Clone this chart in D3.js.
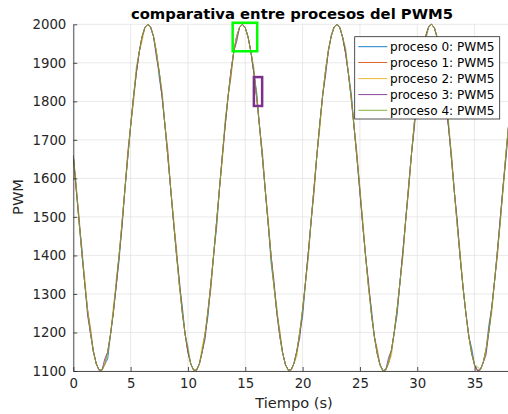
<!DOCTYPE html>
<html><head><meta charset="utf-8">
<script src="https://cdn.jsdelivr.net/npm/d3@7"></script>
<style>body{margin:0;background:#fff}svg{display:block}text{font-family:"DejaVu Sans",sans-serif}</style>
</head><body><svg id="c" width="508" height="414"></svg>
<script>
const tStep = 0.25;
const xTicks = [0,5,10,15,20,25,30,35];
const yTicks = [1100,1200,1300,1400,1500,1600,1700,1800,1900,2000];
const seriesNames = ["proceso 0: PWM5","proceso 1: PWM5","proceso 2: PWM5","proceso 3: PWM5","proceso 4: PWM5"];
const colors = ["#0072BD","#D95319","#EDB120","#7E2F8E","#77AC30"];
const s0 = [1659,1574,1488,1420,1327,1257,1198,1151,1119,1102,1102,1118,1131,1196,1254,1324,1388,1485,1571,1655,1736,1811,1875,1928,1968,1992,2000,1992,1968,1928,1861,1811,1736,1655,1571,1485,1402,1324,1270,1196,1149,1118,1102,1102,1119,1151,1198,1243,1327,1405,1472,1574,1659,1739,1813,1878,1930,1969,1992,2000,1991,1966,1927,1873,1822,1733,1652,1567,1482,1381,1321,1252,1193,1148,1117,1102,1103,1120,1152,1200,1241,1330,1408,1492,1577,1662,1742,1816,1880,1932,1970,1993,2000,1991,1965,1925,1871,1819,1730,1649,1564,1478,1396,1318,1263,1191,1146,1116,1101,1103,1121,1154,1202,1248,1333,1411,1495,1581,1665,1746,1819,1882,1934,1971,1994,2000,1990,1964,1923,1868,1788,1727,1645,1560,1475,1392,1315,1247,1189,1159,1115,1101,1103,1122,1156,1220,1265,1336,1415,1499,1584,1669,1749];
const s1 = [1659,1574,1502,1405,1327,1257,1212,1151,1119,1102,1102,1118,1149,1196,1254,1324,1402,1485,1571,1669,1736,1799,1875,1928,1968,1992,2000,1992,1968,1928,1875,1811,1736,1673,1571,1485,1418,1324,1254,1196,1149,1118,1102,1102,1119,1151,1198,1257,1313,1405,1488,1574,1659,1739,1813,1862,1930,1969,1992,2000,1991,1966,1927,1873,1808,1733,1668,1567,1482,1399,1321,1252,1207,1148,1117,1102,1103,1120,1152,1200,1259,1330,1408,1492,1563,1662,1742,1816,1880,1932,1970,1993,2000,1991,1965,1925,1871,1805,1730,1663,1564,1478,1396,1318,1249,1191,1158,1116,1101,1103,1121,1154,1202,1262,1333,1411,1495,1569,1665,1746,1819,1882,1934,1971,1994,2000,1990,1964,1923,1868,1802,1727,1659,1560,1475,1392,1315,1247,1189,1145,1115,1101,1103,1122,1156,1204,1265,1336,1401,1499,1584,1669,1749];
const s2 = [1637,1574,1488,1405,1343,1257,1198,1151,1119,1102,1102,1118,1149,1196,1270,1324,1402,1485,1571,1655,1736,1811,1875,1928,1956,1992,2000,1992,1968,1928,1875,1811,1736,1655,1571,1499,1402,1324,1254,1196,1149,1118,1102,1102,1119,1165,1198,1257,1327,1405,1488,1574,1645,1739,1813,1878,1930,1969,1992,2000,1991,1966,1927,1873,1808,1733,1652,1567,1498,1399,1321,1252,1193,1148,1117,1102,1103,1120,1138,1200,1259,1330,1408,1492,1577,1662,1728,1816,1880,1932,1970,1993,2000,1991,1965,1925,1871,1805,1730,1649,1564,1494,1396,1318,1249,1191,1146,1116,1101,1103,1121,1140,1202,1262,1333,1411,1495,1581,1665,1746,1819,1870,1934,1971,1994,2000,1990,1964,1923,1868,1802,1727,1645,1560,1475,1408,1315,1247,1189,1145,1115,1101,1103,1122,1156,1204,1251,1336,1415,1499,1570,1669,1749];
const s3 = [1659,1574,1488,1405,1327,1243,1198,1151,1119,1102,1102,1132,1149,1196,1254,1324,1402,1471,1571,1655,1736,1811,1875,1928,1968,1992,2000,1992,1968,1914,1875,1811,1736,1655,1571,1485,1402,1338,1254,1196,1149,1118,1102,1102,1119,1151,1184,1257,1327,1405,1488,1574,1659,1739,1813,1878,1930,1955,1992,2000,1991,1966,1927,1873,1808,1733,1652,1567,1482,1399,1335,1252,1193,1148,1117,1102,1103,1120,1152,1186,1259,1330,1408,1492,1577,1662,1742,1816,1866,1932,1970,1993,2000,1991,1965,1925,1871,1805,1730,1649,1564,1478,1396,1332,1249,1191,1146,1116,1101,1103,1135,1154,1202,1262,1333,1411,1495,1581,1665,1732,1819,1882,1934,1971,1994,2000,1990,1964,1923,1868,1802,1727,1645,1560,1489,1392,1315,1247,1189,1145,1115,1101,1103,1122,1142,1204,1265,1336,1415,1499,1584,1655,1749];
const s4 = [1659,1586,1488,1405,1327,1257,1198,1151,1119,1102,1102,1118,1149,1196,1254,1338,1402,1485,1571,1655,1736,1811,1889,1928,1968,1992,2000,1992,1968,1928,1875,1825,1736,1655,1571,1485,1402,1324,1254,1196,1163,1118,1102,1102,1119,1151,1198,1257,1327,1405,1488,1574,1659,1753,1813,1878,1930,1969,1992,2000,1991,1966,1927,1887,1808,1733,1652,1567,1482,1399,1321,1266,1193,1148,1117,1102,1103,1120,1152,1200,1259,1330,1394,1492,1577,1662,1742,1816,1880,1932,1970,1993,2000,1991,1965,1939,1871,1805,1730,1649,1578,1478,1396,1318,1249,1191,1146,1116,1101,1103,1121,1154,1202,1262,1333,1397,1495,1581,1665,1746,1819,1882,1934,1959,1994,2000,1990,1964,1923,1868,1802,1741,1645,1560,1475,1392,1315,1247,1189,1145,1115,1111,1103,1122,1156,1204,1265,1336,1415,1485,1584,1669,1749];
const seriesValues = [s0,s1,s2,s3,s4];
// annotation boxes: [x0, x1, y0, y1] in data units
const greenBox = [13.9, 16.04, 1930, 2004];
const purpleBox = [15.75, 16.47, 1788, 1863];

const svg = d3.select("#c");
const L = 73.3, T = 24.3, B = 371, R = 509;
const x = d3.scaleLinear().domain([0,38]).range([L,R]);
const y = d3.scaleLinear().domain([1100,2000]).range([B,T]);
const ink = "#262626";

// grid
const g = svg.append("g");
g.selectAll(".gx").data(xTicks).enter().append("line")
  .attr("x1",d=>x(d)).attr("x2",d=>x(d)).attr("y1",T).attr("y2",B)
  .attr("stroke","#e3e3e3").attr("stroke-width",0.8);
g.selectAll(".gy").data(yTicks).enter().append("line")
  .attr("x1",L).attr("x2",R).attr("y1",d=>y(d)).attr("y2",d=>y(d))
  .attr("stroke","#e3e3e3").attr("stroke-width",0.8);

// lines
svg.append("clipPath").attr("id","clip").append("rect")
  .attr("x",L).attr("y",T-2).attr("width",R-L).attr("height",B-T+3);
const line = d3.line().x((d,i)=>x(i*tStep)).y(d=>y(d));
const lg = svg.append("g").attr("clip-path","url(#clip)");
seriesValues.forEach((vals,i)=>{
  lg.append("path").attr("d",line(vals)).attr("fill","none")
    .attr("stroke",colors[i]).attr("stroke-width",0.9).attr("stroke-opacity",0.9);
});

// axes
const xAxis = d3.axisBottom(x).tickValues(xTicks).tickFormat(d3.format("d")).tickSizeInner(-4).tickSizeOuter(0).tickPadding(8);
const yAxis = d3.axisLeft(y).tickValues(yTicks).tickFormat(d3.format("d")).tickSizeInner(-4).tickSizeOuter(0).tickPadding(7);
const ax = svg.append("g").attr("transform",`translate(0,${B})`).call(xAxis);
const ay = svg.append("g").attr("transform",`translate(${L},0)`).call(yAxis);
[ax,ay].forEach(a=>{
  a.select(".domain").attr("stroke",ink).attr("stroke-width",0.8);
  a.selectAll(".tick line").attr("stroke",ink).attr("stroke-width",0.8);
  a.selectAll(".tick text").attr("fill",ink).style("font-size","13.3px").style("font-family","DejaVu Sans");
});

// annotation rectangles
svg.append("rect").attr("x",x(greenBox[0])).attr("y",y(greenBox[3]))
  .attr("width",x(greenBox[1])-x(greenBox[0])).attr("height",y(greenBox[2])-y(greenBox[3]))
  .attr("fill","none").attr("stroke","#00ff00").attr("stroke-width",2.5);
svg.append("rect").attr("x",x(purpleBox[0])).attr("y",y(purpleBox[3]))
  .attr("width",x(purpleBox[1])-x(purpleBox[0])).attr("height",y(purpleBox[2])-y(purpleBox[3]))
  .attr("fill","none").attr("stroke","#7E2F8E").attr("stroke-width",2.5);

// title and labels
svg.append("text").attr("x",292).attr("y",19).attr("text-anchor","middle")
  .style("font-size","14.8px").style("font-weight","bold").attr("fill","#000")
  .text("comparativa entre procesos del PWM5");
svg.append("text").attr("x",294).attr("y",408).attr("text-anchor","middle")
  .style("font-size","14.6px").attr("fill",ink).text("Tiempo (s)");
svg.append("text").attr("transform","translate(23,197) rotate(-90)").attr("text-anchor","middle")
  .style("font-size","14.6px").attr("fill",ink).text("PWM");

// legend
const leg = svg.append("g");
leg.append("rect").attr("x",354.7).attr("y",36.7).attr("width",145).attr("height",82.3)
  .attr("fill","#fff").attr("stroke",ink).attr("stroke-width",0.8);
const rowY = [46.7,62.5,78.6,94.6,110.3];
seriesNames.forEach((n,i)=>{
  leg.append("line").attr("x1",358.3).attr("x2",387.3).attr("y1",rowY[i]).attr("y2",rowY[i])
    .attr("stroke",colors[i]).attr("stroke-width",0.9);
  leg.append("text").attr("x",390).attr("y",rowY[i]).attr("dy","0.36em")
    .style("font-size","12.1px").attr("fill","#000").text(n);
});
</script></body></html>
